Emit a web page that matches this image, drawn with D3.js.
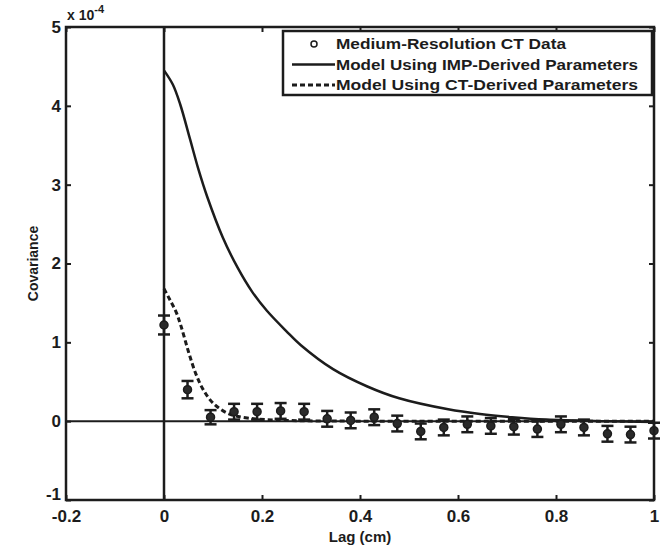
<!DOCTYPE html>
<html>
<head>
<meta charset="utf-8">
<script src="https://cdn.jsdelivr.net/npm/d3@7"></script>
<style>
  body { margin: 0; background: #fff; }
  svg { display: block; font-family: "Liberation Sans", Arial, sans-serif; font-weight: bold; }
</style>
</head>
<body>
<svg id="chart" width="664" height="549"></svg>
<script>
// Covariance values are in units of 1e-4
const lags = [0, 0.048, 0.095, 0.143, 0.19, 0.238, 0.286, 0.333, 0.381, 0.429, 0.476,
              0.524, 0.571, 0.619, 0.667, 0.714, 0.762, 0.81, 0.857, 0.905, 0.952, 1.0];
const ctCov = [1.22, 0.40, 0.05, 0.12, 0.12, 0.13, 0.12, 0.03, 0.01, 0.05, -0.03,
               -0.13, -0.08, -0.04, -0.06, -0.07, -0.10, -0.04, -0.08, -0.16, -0.17, -0.12];
const ctErr = [0.12, 0.11, 0.09, 0.1, 0.1, 0.1, 0.1, 0.1, 0.1, 0.1, 0.1,
               0.1, 0.1, 0.1, 0.1, 0.1, 0.1, 0.1, 0.1, 0.1, 0.1, 0.1];

const impLag = [0, 0.018, 0.033, 0.053, 0.07, 0.088, 0.12, 0.15, 0.18, 0.21, 0.25, 0.28,
                0.345, 0.415, 0.48, 0.58, 0.645, 0.71, 0.78, 0.9, 1.0];
const impCov = [4.45, 4.27, 4.02, 3.58, 3.2, 2.85, 2.33, 1.95, 1.64, 1.40, 1.14, 0.96,
                0.66, 0.44, 0.29, 0.15, 0.09, 0.05, 0.02, 0.0, -0.01];

const ctModelLag = [0, 0.012, 0.025, 0.035, 0.05, 0.065, 0.08, 0.1, 0.13, 0.17, 0.25, 0.4, 1.0];
const ctModelCov = [1.68, 1.54, 1.38, 1.2, 0.88, 0.6, 0.4, 0.23, 0.1, 0.04, 0.01, 0, 0];

const xTicks = [-0.2, 0, 0.2, 0.4, 0.6, 0.8, 1];
const yTicks = [-1, 0, 1, 2, 3, 4, 5];
const legendLabels = ["Medium-Resolution CT Data", "Model Using IMP-Derived Parameters", "Model Using CT-Derived Parameters"];

const margin = { top: 27, right: 10, bottom: 49, left: 66 };
const width = 664, height = 549;
const ink = "#1c1c1c";

const svg = d3.select("#chart");
svg.append("rect").attr("width", width).attr("height", height).attr("fill", "#fff");

const x = d3.scaleLinear().domain([-0.2, 1]).range([margin.left, width - margin.right]);
const y = d3.scaleLinear().domain([-1, 5]).range([height - margin.bottom, margin.top]);

// zero lines
svg.append("line")
    .attr("x1", x(-0.2)).attr("x2", x(1)).attr("y1", y(0)).attr("y2", y(0))
    .attr("stroke", ink).attr("stroke-width", 2);
svg.append("line")
    .attr("x1", x(0)).attr("x2", x(0)).attr("y1", y(5)).attr("y2", y(-1))
    .attr("stroke", ink).attr("stroke-width", 2.5);

const line = d3.line().curve(d3.curveCatmullRom.alpha(0.5)).x(d => x(d[0])).y(d => y(d[1]));

svg.append("path")
    .datum(impLag.map((l, i) => [l, impCov[i]]))
    .attr("d", line).attr("fill", "none")
    .attr("stroke", ink).attr("stroke-width", 2.5);

svg.append("path")
    .datum(ctModelLag.map((l, i) => [l, ctModelCov[i]]))
    .attr("d", line).attr("fill", "none")
    .attr("stroke", ink).attr("stroke-width", 3)
    .attr("stroke-dasharray", "5,3");

// data with error bars
const pts = svg.append("g").selectAll("g")
    .data(lags.map((l, i) => ({ lag: l, v: ctCov[i], e: ctErr[i] })))
    .join("g").attr("stroke", ink).attr("stroke-width", 2.5);

pts.append("line")
    .attr("x1", d => x(d.lag)).attr("x2", d => x(d.lag))
    .attr("y1", d => y(d.v - d.e)).attr("y2", d => y(d.v + d.e));
pts.append("line")
    .attr("x1", d => x(d.lag) - 6).attr("x2", d => x(d.lag) + 6)
    .attr("y1", d => y(d.v + d.e)).attr("y2", d => y(d.v + d.e));
pts.append("line")
    .attr("x1", d => x(d.lag) - 6).attr("x2", d => x(d.lag) + 6)
    .attr("y1", d => y(d.v - d.e)).attr("y2", d => y(d.v - d.e));
pts.append("circle")
    .attr("cx", d => x(d.lag)).attr("cy", d => y(d.v)).attr("r", 4)
    .attr("fill", "#2a2a2a").attr("stroke-width", 1.5);

// axes box with inward ticks
const tickLen = 5;
const fmt = d => String(d);
const axisStyle = g => {
    g.select(".domain").remove();
    g.selectAll(".tick line").attr("stroke", ink).attr("stroke-width", 2);
    g.selectAll(".tick text").attr("fill", ink).attr("font-size", 17).attr("font-weight", "bold")
        .attr("font-family", '"Liberation Sans", Arial, sans-serif');
};

svg.append("g").attr("transform", `translate(0,${y(-1)})`)
    .call(d3.axisBottom(x).tickValues(xTicks).tickSize(-tickLen).tickPadding(10).tickFormat(fmt))
    .call(axisStyle);
svg.append("g").attr("transform", `translate(0,${y(5)})`)
    .call(d3.axisTop(x).tickValues(xTicks).tickSize(-tickLen).tickFormat(""))
    .call(axisStyle);
svg.append("g").attr("transform", `translate(${x(-0.2)},0)`)
    .call(d3.axisLeft(y).tickValues(yTicks).tickSize(-tickLen).tickPadding(5).tickFormat(fmt))
    .call(axisStyle)
    .selectAll(".tick text").filter(d => d === -1).attr("dy", "-0.05em");
svg.append("g").attr("transform", `translate(${x(1)},0)`)
    .call(d3.axisRight(y).tickValues(yTicks).tickSize(-tickLen).tickFormat(""))
    .call(axisStyle);

svg.append("rect")
    .attr("x", x(-0.2)).attr("y", y(5))
    .attr("width", x(1) - x(-0.2)).attr("height", y(-1) - y(5))
    .attr("fill", "none").attr("stroke", ink).attr("stroke-width", 2.5);

// exponent label
const expo = svg.append("text").attr("x", x(-0.2) + 1).attr("y", 20)
    .attr("font-size", 14).attr("fill", ink);
expo.append("tspan").text("x 10");
expo.append("tspan").attr("font-size", 11).attr("dy", -7).text("-4");

// axis titles
svg.append("text")
    .attr("x", x(0.4)).attr("y", 542)
    .attr("text-anchor", "middle").attr("font-size", 15).attr("fill", ink)
    .text("Lag (cm)");
svg.append("text")
    .attr("transform", `translate(38,${y(2)}) rotate(-90)`)
    .attr("text-anchor", "middle").attr("font-size", 14).attr("fill", ink)
    .text("Covariance");

// legend
const lg = svg.append("g").attr("transform", "translate(283,31)");
lg.append("rect").attr("width", 369).attr("height", 64)
    .attr("fill", "#fff").attr("stroke", ink).attr("stroke-width", 2.5);
const rows = lg.selectAll("g").data(legendLabels).join("g")
    .attr("transform", (d, i) => `translate(0,${13 + i * 20.5})`);
rows.append("text")
    .attr("x", 53).attr("y", 5).attr("font-size", 15).attr("fill", ink)
    .attr("textLength", (d, i) => [230, 302, 302][i]).attr("lengthAdjust", "spacingAndGlyphs")
    .text(d => d);
rows.filter((d, i) => i === 0).append("circle")
    .attr("cx", 31).attr("cy", 0).attr("r", 3).attr("fill", "none")
    .attr("stroke", ink).attr("stroke-width", 1.5);
rows.filter((d, i) => i === 1).append("line")
    .attr("x1", 9).attr("x2", 52).attr("stroke", ink).attr("stroke-width", 2.5);
rows.filter((d, i) => i === 2).append("line")
    .attr("x1", 9).attr("x2", 52).attr("stroke", ink).attr("stroke-width", 3)
    .attr("stroke-dasharray", "5,3");
</script>
</body>
</html>
